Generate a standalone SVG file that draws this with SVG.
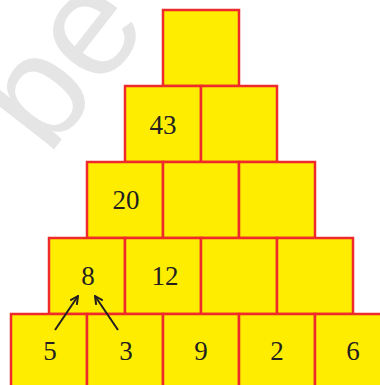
<svg xmlns="http://www.w3.org/2000/svg" width="380" height="385" viewBox="0 0 380 385">
<style>
.c{fill:#FFED00;stroke:#EE2A2A;stroke-width:2.5}
.t{font-family:"Liberation Serif","Times New Roman",serif;font-size:27px;fill:#231F20;text-anchor:middle}
.a{stroke:#231F20;stroke-width:2;fill:none}
</style>
<defs>
<marker id="ah" viewBox="0 0 10 10" refX="9" refY="5" markerWidth="10" markerHeight="10" markerUnits="userSpaceOnUse" orient="auto">
<polyline points="1,1 9,5 1,9" fill="none" stroke="#231F20" stroke-width="2"/>
</marker>
</defs>
<rect width="380" height="385" fill="#fff"/>
<text x="48" y="157" transform="rotate(-52 48 157)" font-family="Liberation Sans, Arial, sans-serif" font-size="150" fill="#E5E5E5">be</text>
<g id="r1c1"><rect class="c" x="163" y="10" width="76" height="76"/></g>
<g id="r2c1"><rect class="c" x="125" y="86" width="76" height="76"/><text class="t" x="163" y="134">43</text></g>
<g id="r2c2"><rect class="c" x="201" y="86" width="76" height="76"/></g>
<g id="r3c1"><rect class="c" x="87" y="162" width="76" height="76"/><text class="t" x="126" y="209">20</text></g>
<g id="r3c2"><rect class="c" x="163" y="162" width="76" height="76"/></g>
<g id="r3c3"><rect class="c" x="239" y="162" width="76" height="76"/></g>
<g id="r4c1"><rect class="c" x="49" y="238" width="76" height="76"/><text class="t" x="88" y="285">8</text></g>
<g id="r4c2"><rect class="c" x="125" y="238" width="76" height="76"/><text class="t" x="165" y="285">12</text></g>
<g id="r4c3"><rect class="c" x="201" y="238" width="76" height="76"/></g>
<g id="r4c4"><rect class="c" x="277" y="238" width="76" height="76"/></g>
<g id="r5c1"><rect class="c" x="11" y="314" width="76" height="76"/><text class="t" x="50" y="360">5</text></g>
<g id="r5c2"><rect class="c" x="87" y="314" width="76" height="76"/><text class="t" x="126" y="360">3</text></g>
<g id="r5c3"><rect class="c" x="163" y="314" width="76" height="76"/><text class="t" x="201" y="360">9</text></g>
<g id="r5c4"><rect class="c" x="239" y="314" width="76" height="76"/><text class="t" x="277" y="360">2</text></g>
<g id="r5c5"><rect class="c" x="315" y="314" width="76" height="76"/><text class="t" x="353" y="360">6</text></g>
<g id="connectors">
<line class="a" x1="55" y1="330" x2="78" y2="296" marker-end="url(#ah)"/>
<line class="a" x1="118" y1="330" x2="95" y2="296" marker-end="url(#ah)"/>
</g>
</svg>
